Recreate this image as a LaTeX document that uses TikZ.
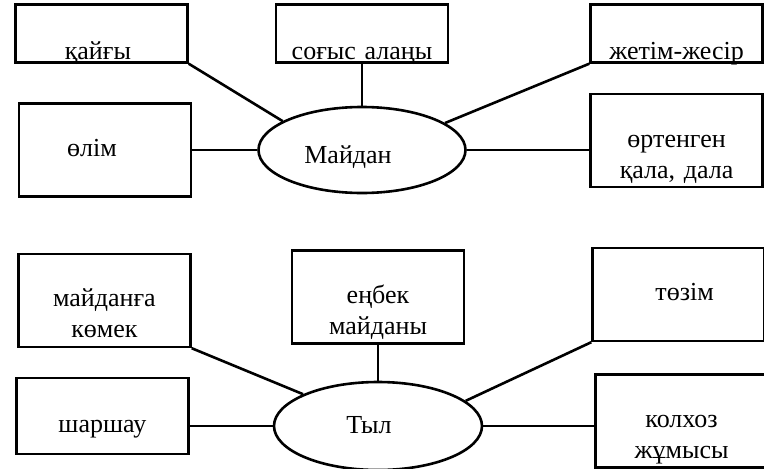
\documentclass[tikz,border=0pt]{standalone}
\usepackage{fontspec}
\setmainfont{Liberation Serif}
\usetikzlibrary{positioning}
\usetikzlibrary{shapes}
\tikzset{
    link/.style={line width=2.6pt},
    box/.style = {
      draw,
      line width=2.6pt,
      rectangle,
      inner sep=0pt,
      text width=172pt,
      align=center,
      font=\fontsize{26}{31}\selectfont
    },
    flatbox/.style = {box, text height=55pt, text depth=3pt},
    tallbox/.style = {box, text height=53pt, text depth=40pt},
    hub/.style = {
      ellipse,
      draw,
      line width=2.6pt,
      inner sep=0pt,
      text depth=0pt,
      font=\fontsize{26}{31}\selectfont
    },
}

\begin{document}
\begin{tikzpicture}[x=1pt, y=-1pt]
      \useasboundingbox (0,0) rectangle (764,469);

      % front
      \node [hub, minimum width=207pt, minimum height=86pt, text height=26pt] (maidan) at (362,150) {Майдан\kern28pt};

      \node [flatbox, above=42pt of maidan] (sogys) {соғыс алаңы};
      \node [flatbox, left=86pt of sogys] (qaygy) {қайғы\kern7pt};
      \node [flatbox, right=140pt of sogys] (zhetim) {жетім-жесір};
      \node [tallbox, left=65pt of maidan] (olim) {өлім\kern26pt};
      \node [tallbox, below=29pt of zhetim] (orten) {өртенген\\қала, дала};

      \draw [link] (qaygy.south east) -- (maidan.160);
      \draw [link] (sogys.south) -- (maidan.north);
      \draw [link] (zhetim.south west) -- (maidan.18);
      \draw [link] (olim.east) -- (maidan.west);
      \draw [link] (maidan.east) -- (maidan.east -| orten.west);

      % rear
      \node [hub, minimum width=208pt, minimum height=88pt, text height=14pt] (tyl) at (378,426) {Тыл\kern18pt};

      \node [tallbox, above=36pt of tyl] (enbek) {еңбек\\майданы};
      \node [tallbox, left=99pt of enbek, yshift=-3.5pt] (komek) {майданға\\көмек};
      \node [box, text height=54pt, text depth=22pt, left=83pt of tyl, yshift=10pt] (sharshau) {шаршау};
      \node [tallbox, right=126pt of enbek, yshift=2.5pt] (tozim) {\kern12pt төзім};
      \node [tallbox, right=111pt of tyl, yshift=5pt] (kolhoz) {колхоз\\жұмысы};

      \draw [link] (komek.south east) -- (tyl.157);
      \draw [link] (enbek.south) -- (tyl.north);
      \draw [link] (tozim.south west) -- (tyl.16);
      \draw [link] (tyl.west) -- (tyl.west -| sharshau.east);
      \draw [link] (tyl.east) -- (tyl.east -| kolhoz.west);
\end{tikzpicture}
\end{document}
